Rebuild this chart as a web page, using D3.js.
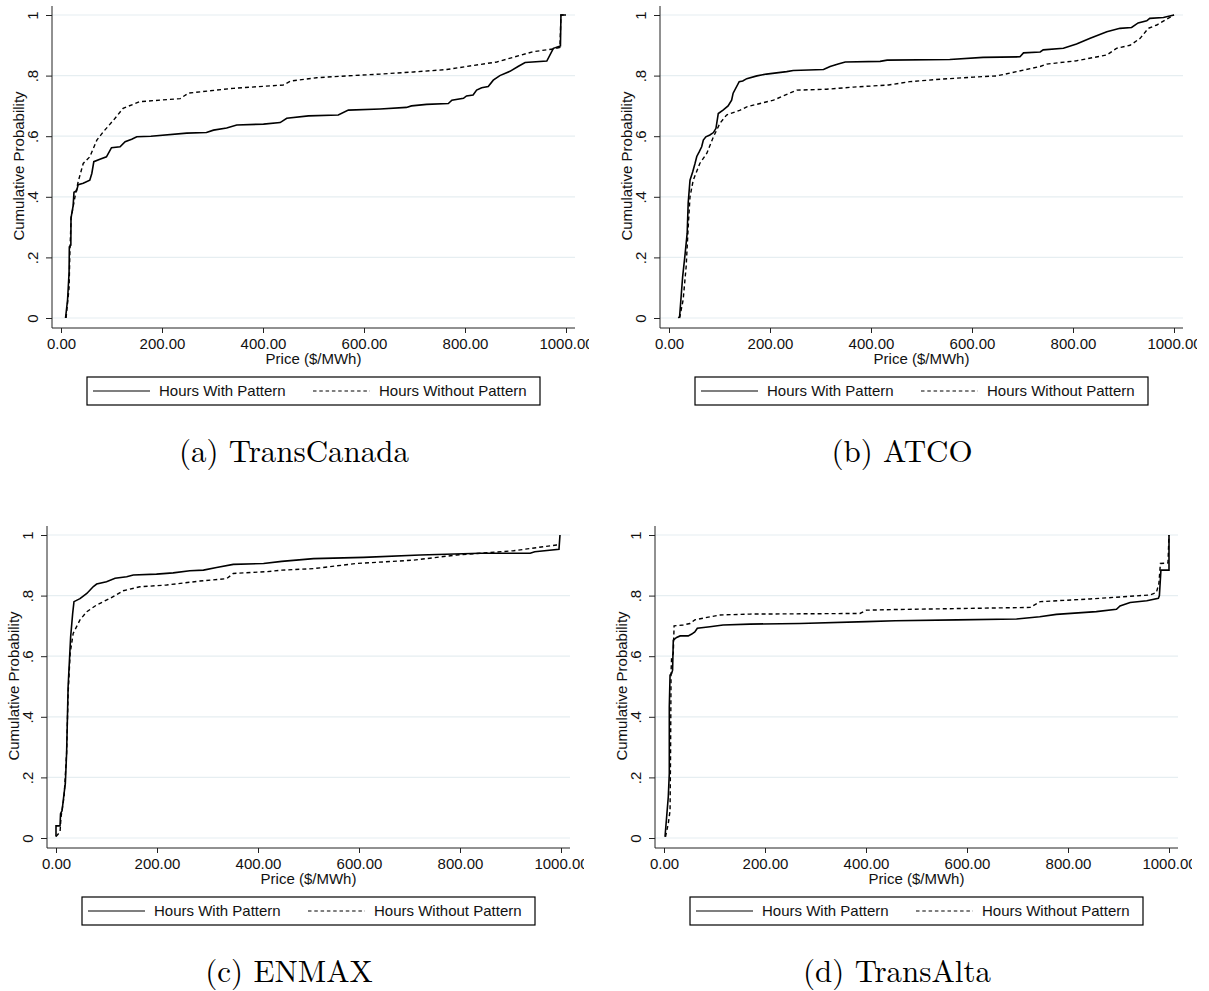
<!DOCTYPE html>
<html>
<head>
<meta charset="utf-8">
<script src="https://cdn.jsdelivr.net/npm/d3@7"></script>
<style>
  body { margin: 0; background: #fff; }
  svg { display: block; }
</style>
</head>
<body>
<svg id="chart" width="1209" height="991"></svg>
<script>
// Axis ticks
const priceTicks = [0, 200, 400, 600, 800, 1000];
const probTicks = [0, 0.2, 0.4, 0.6, 0.8, 1];
const legendLabels = ["Hours With Pattern", "Hours Without Pattern"];
const captions = ["(a) TransCanada", "(b) ATCO", "(c) ENMAX", "(d) TransAlta"];

const tcWith = [[9,0],[13,.06],[16,.15],[16.5,.235],[19.5,.24],[19.8,.33],[24,.37],[25.7,.415],[31,.42],[34,.44],[44,.445],[57,.455],[61,.477],[65,.516],[77,.524],[90,.532],[100,.562],[117,.565],[127,.582],[140,.59],[150,.598],[178,.6],[249,.61],[288,.612],[302,.62],[328,.627],[348,.637],[401,.64],[434,.645],[447,.659],[490,.667],[549,.67],[569,.686],[632,.69],[684,.695],[694,.7],[724,.705],[767,.708],[774,.719],[797,.725],[803,.733],[816,.736],[823,.752],[833,.76],[846,.764],[856,.785],[869,.8],[889,.814],[905,.83],[919,.843],[962,.848],[975,.89],[989,.898],[990,1],[1000,1]];
const tcWithout = [[10,0],[16,.1],[17.5,.21],[20,.33],[27.7,.4],[34,.45],[44,.51],[57,.532],[71,.587],[84,.615],[104,.653],[123,.692],[156,.714],[236,.724],[252,.742],[341,.758],[440,.769],[455,.782],[506,.793],[566,.799],[632,.805],[698,.812],[764,.82],[803,.83],[863,.845],[935,.879],[975,.888],[988,.893],[990,1],[1000,1]];
const atcoWith = [[18.5,0],[21,.005],[27,.136],[32,.213],[36,.28],[38,.38],[41.6,.455],[47,.483],[51.5,.51],[55,.533],[60,.549],[64.7,.565],[68,.587],[73,.598],[81,.604],[88,.612],[93,.626],[97.6,.675],[107,.686],[117,.7],[124,.719],[127,.742],[139,.78],[146,.782],[154,.79],[174,.799],[193,.805],[233,.813],[246,.817],[306,.82],[319,.83],[335,.838],[349,.845],[418,.847],[432,.851],[556,.853],[622,.86],[695,.862],[702,.875],[735,.878],[741,.885],[781,.89],[807,.904],[834,.923],[867,.945],[893,.956],[916,.959],[929,.974],[946,.981],[952,.989],[979,.992],[1000,1]];
const atcoWithout = [[21,0],[28,.06],[34,.17],[38,.3],[41.6,.4],[48,.455],[61,.51],[75,.544],[88,.598],[101,.643],[114,.67],[141,.686],[154,.697],[207,.719],[253,.752],[312,.755],[365,.762],[435,.769],[477,.78],[537,.788],[603,.795],[649,.799],[688,.813],[735,.83],[748,.838],[807,.849],[867,.868],[886,.89],[913,.9],[933,.923],[949,.956],[966,.967],[1000,1]];
const enmaxWith = [[0,.005],[0,.04],[8,.04],[9,.08],[12,.09],[16,.147],[18.5,.18],[21,.28],[24,.5],[29,.664],[33,.741],[35.6,.78],[47.5,.79],[61,.807],[74,.83],[80.5,.838],[100,.846],[117,.857],[140,.862],[153,.868],[199,.871],[232,.875],[265,.882],[292,.884],[318,.893],[351,.903],[411,.906],[447,.913],[510,.922],[609,.926],[721,.934],[840,.94],[939,.94],[948,.945],[996,.953],[998,1]];
const enmaxWithout = [[0,.005],[8,.02],[10,.07],[16,.136],[21,.28],[24,.477],[28,.609],[34,.675],[47.5,.72],[61,.747],[80.5,.769],[107,.791],[133,.816],[166,.829],[219,.835],[285,.848],[338,.856],[351,.873],[417,.879],[447,.884],[510,.889],[595,.906],[708,.917],[793,.934],[906,.948],[991,.967],[998,.967]];
const transAltaWith = [[2,.004],[8.5,.136],[10.5,.213],[10.5,.433],[12,.538],[15,.543],[17,.554],[18.4,.653],[25,.662],[32,.667],[48,.667],[55,.673],[61,.68],[66,.692],[91,.697],[117,.703],[170,.706],[269,.708],[401,.714],[458,.717],[580,.72],[698,.723],[744,.73],[777,.738],[856,.747],[896,.755],[903,.766],[923,.777],[956,.783],[979,.791],[981,.8],[984,.884],[1000,.884],[1000,1]];
const transAltaWithout = [[3,.004],[8.5,.048],[12,.09],[13,.28],[14,.55],[15,.593],[18.4,.61],[20,.7],[38,.703],[51.5,.708],[61,.72],[85,.728],[111,.736],[170,.739],[388,.741],[401,.752],[458,.754],[725,.761],[745,.78],[844,.789],[962,.802],[975,.81],[980,.84],[983,.906],[998,.908],[1000,1]];

// Panel offsets on the page
const panels = [
  { with: tcWith, without: tcWithout, ox: 0, oy: 0 },
  { with: atcoWith, without: atcoWithout, ox: 608, oy: 0 },
  { with: enmaxWith, without: enmaxWithout, ox: -5, oy: 520 },
  { with: transAltaWith, without: transAltaWithout, ox: 603, oy: 520 }
];

const svg = d3.select("#chart");
const sans = "'Liberation Sans', Arial, Helvetica, sans-serif";

// Local geometry shared by all four panels
const axisX = 52, plotRight = 575, plotTop = 6, axisBottom = 328;
const x = d3.scaleLinear().domain([0, 1000]).range([61, 566]);
const y = d3.scaleLinear().domain([0, 1]).range([318, 15]);

svg.append("defs").append("clipPath")
  .attr("id", "panel-clip")
  .append("rect")
  .attr("x", -10).attr("y", -10)
  .attr("width", 599).attr("height", 520);

const line = d3.line().x(d => x(d[0])).y(d => y(d[1]));

panels.forEach((p, i) => {
  const outer = svg.append("g").attr("transform", `translate(${p.ox},${p.oy})`);
  const g = outer.append("g").attr("clip-path", "url(#panel-clip)");

  // gridlines
  g.selectAll(".grid")
    .data(probTicks)
    .enter()
    .append("line")
    .attr("x1", axisX).attr("x2", plotRight)
    .attr("y1", d => y(d)).attr("y2", d => y(d))
    .style("stroke", "#e6eef1")
    .style("stroke-width", 1.2);

  // y axis
  const yAxis = g.append("g")
    .attr("transform", `translate(${axisX},0)`)
    .call(d3.axisLeft(y).tickValues(probTicks).tickSize(6).tickPadding(0)
      .tickFormat(d => d === 0 || d === 1 ? String(d) : d3.format(".1f")(d).replace(/^0/, "")));
  yAxis.select(".domain").attr("d", `M0,${plotTop}V${axisBottom}`).style("stroke", "#222");
  yAxis.selectAll(".tick line").style("stroke", "#222");
  yAxis.selectAll(".tick text")
    .attr("transform", "rotate(-90)")
    .attr("x", 0).attr("y", -14).attr("dy", 0)
    .attr("text-anchor", "middle")
    .style("font-family", sans).style("font-size", "15px").style("fill", "#111");

  // x axis
  const xAxis = g.append("g")
    .attr("transform", `translate(0,${axisBottom})`)
    .call(d3.axisBottom(x).tickValues(priceTicks).tickSize(5).tickPadding(0)
      .tickFormat(d3.format(".2f")));
  xAxis.select(".domain").attr("d", `M${axisX},0H${plotRight}`).style("stroke", "#222");
  xAxis.selectAll(".tick line").style("stroke", "#222");
  xAxis.selectAll(".tick text")
    .attr("y", 21).attr("dy", 0)
    .style("font-family", sans).style("font-size", "15px").style("fill", "#111");

  // axis titles
  g.append("text")
    .attr("transform", `translate(24,166) rotate(-90)`)
    .attr("text-anchor", "middle")
    .style("font-family", sans).style("font-size", "15px").style("fill", "#111")
    .text("Cumulative Probability");
  g.append("text")
    .attr("x", (axisX + plotRight) / 2).attr("y", 364)
    .attr("text-anchor", "middle")
    .style("font-family", sans).style("font-size", "15px").style("fill", "#111")
    .text("Price ($/MWh)");

  // CDF lines
  g.append("path")
    .datum(p.without)
    .attr("d", line)
    .style("fill", "none").style("stroke", "#000")
    .style("stroke-width", 1.4).style("stroke-dasharray", "4,3");
  g.append("path")
    .datum(p.with)
    .attr("d", line)
    .style("fill", "none").style("stroke", "#000")
    .style("stroke-width", 1.6);

  // legend
  const leg = outer.append("g");
  leg.append("rect")
    .attr("x", 87).attr("y", 377).attr("width", 453).attr("height", 28)
    .style("fill", "#fff").style("stroke", "#000").style("stroke-width", 1.2);
  const items = [{ x0: 93, dash: null }, { x0: 313, dash: "3.5,2.8" }];
  items.forEach((it, k) => {
    leg.append("line")
      .attr("x1", it.x0).attr("x2", it.x0 + 57)
      .attr("y1", 391).attr("y2", 391)
      .style("stroke", "#000").style("stroke-width", 1.2)
      .style("stroke-dasharray", it.dash);
    leg.append("text")
      .attr("x", it.x0 + 66).attr("y", 396)
      .style("font-family", sans).style("font-size", "15px").style("fill", "#111")
      .text(legendLabels[k]);
  });

  // caption
  outer.append("text")
    .attr("x", 294).attr("y", 462)
    .attr("text-anchor", "middle")
    .style("font-family", "'Latin Modern Roman', 'Liberation Serif', 'Times New Roman', serif")
    .style("font-size", "31px").style("fill", "#000")
    .text(captions[i]);
});
</script>
</body>
</html>
